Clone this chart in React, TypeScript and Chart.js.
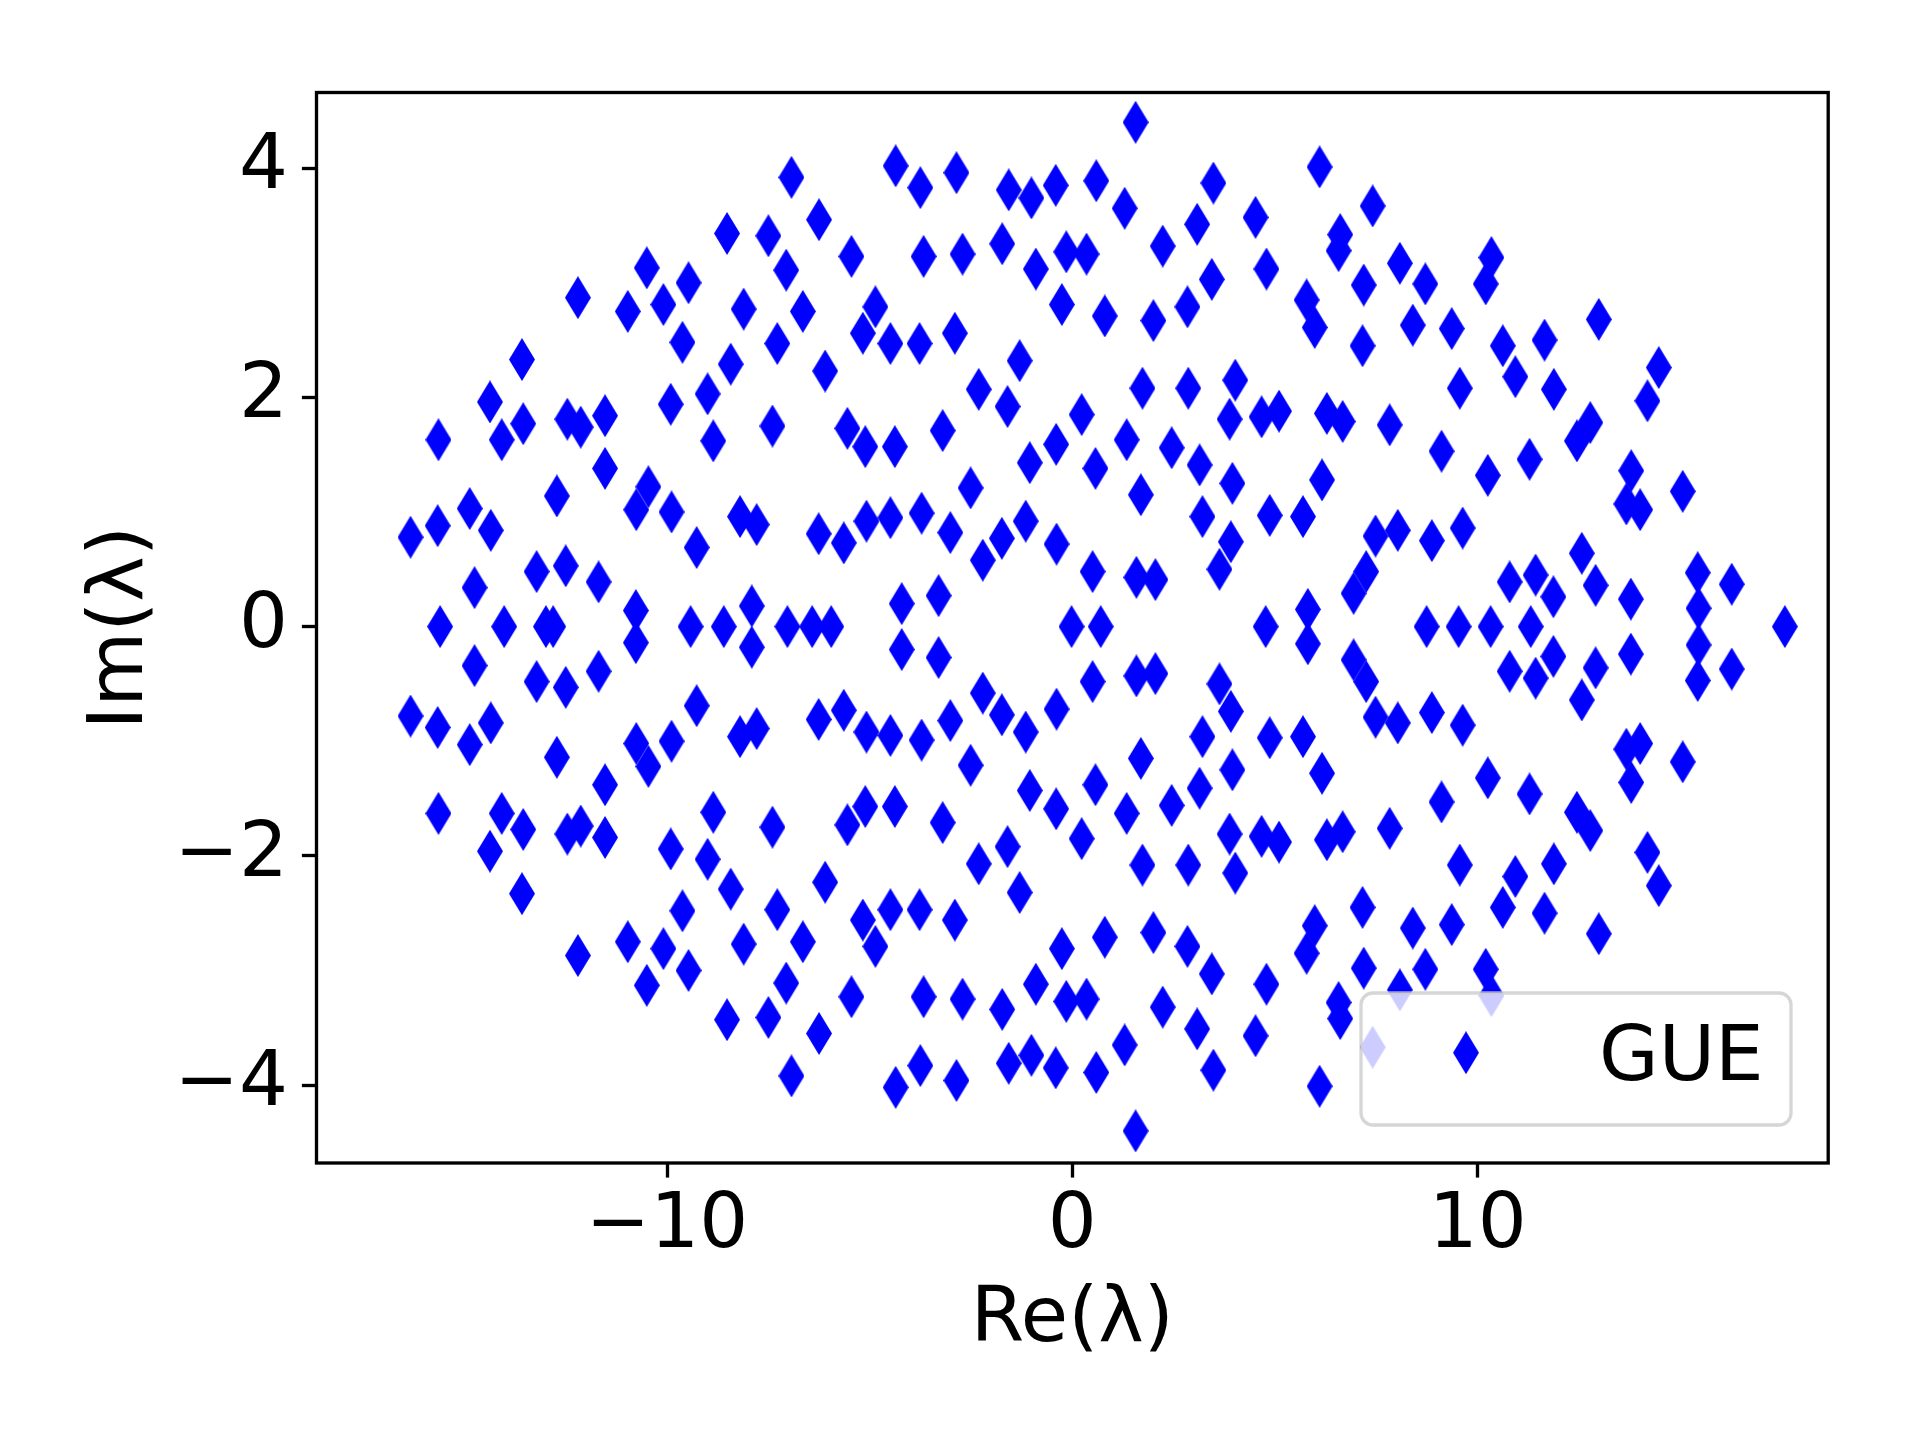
import React, { useEffect, useRef } from "react";
import { Chart, registerables } from "chart.js";

Chart.register(...registerables);

// Eigenvalues with positive imaginary part
const reUpper = [
  -16.33, -15.64, -15.66, -14.87, -14.75, -14.37, -14.08, -14.35, -13.58, -13.55,
  -13.22, -12.72, -12.46, -12.2, -12.13, -12.5, -11.53, -11.53, -11.69, -10.97,
  -10.76, -10.5, -10.46, -10.77, -10.09, -9.91, -9.89, -9.47, -9.62, -9.27,
  -9.0, -8.86, -8.52, -8.43, -8.11, -8.2, -7.79, -7.91, -7.5, -7.06,
  -7.28, -7.4, -6.93, -6.65, -6.25, -6.1, -6.26, -5.64, -5.45, -5.55,
  -5.11, -4.86, -5.17, -5.08, -4.38, -4.49, -4.36, -4.49, -4.21, -3.75,
  -3.77, -3.67, -3.72, -3.2, -3.3, -2.86, -2.9, -2.71, -3.01, -2.51,
  -2.31, -2.21, -1.73, -1.57, -1.6, -1.74, -1.3, -1.15, -1.05, -1.01,
  -0.9, -0.41, -0.26, -0.15, -0.4, -0.39, 0.35, 0.23, 0.59, 0.57,
  0.8, 0.5, 1.56, 1.29, 1.73, 1.34, 1.69, 1.58, 2.05, 2.0,
  2.23, 2.45, 2.84, 2.86, 3.08, 3.14, 3.21, 3.48, 3.44, 3.63,
  3.88, 3.95, 4.02, 3.91, 4.52, 4.79, 4.67, 5.1, 4.87, 5.78,
  5.98, 6.1, 5.81, 5.69, 6.16, 6.28, 6.67, 6.61, 6.57, 7.19,
  7.16, 7.41, 6.94, 7.25, 7.48, 7.83, 8.03, 8.08, 8.4, 8.71,
  8.87, 9.11, 9.36, 9.56, 9.63, 10.2, 10.34, 10.25, 10.62, 10.93,
  10.79, 11.28, 11.43, 11.65, 11.88, 11.87, 12.45, 12.78, 12.57, 12.99,
  12.91, 13.79, 13.78, 14.19, 14.47, 13.67, 14.01, 15.06, 15.43, 16.27,
  15.45,
];
const imUpper = [
  0.78, 1.63, 0.88, 1.03, 0.34, 1.96, 1.63, 0.84, 2.33, 1.77,
  0.48, 1.14, 1.81, 2.87, 1.74, 0.53, 1.84, 1.38, 0.39, 2.75,
  1.02, 3.13, 1.22, 0.14, 2.81, 1.94, 1.0, 3.0, 2.48, 0.69,
  2.03, 1.62, 3.43, 2.29, 2.77, 0.96, 0.89, 0.18, 3.41, 3.11,
  2.47, 1.75, 3.92, 2.75, 3.55, 2.23, 0.81, 0.73, 3.23, 1.73,
  1.57, 2.79, 2.56, 0.92, 1.57, 2.47, 4.02, 0.95, 0.2, 3.83,
  2.47, 3.23, 0.99, 1.71, 0.27, 3.96, 2.56, 3.25, 0.82, 1.21,
  2.07, 0.58, 3.34, 3.81, 1.92, 0.77, 2.32, 0.92, 1.43, 3.74,
  3.12, 3.85, 2.81, 3.27, 1.59, 0.72, 3.25, 1.85, 3.89, 1.38,
  2.71, 0.48, 4.4, 3.65, 2.08, 1.63, 1.15, 0.43, 0.41, 2.67,
  3.32, 1.56, 2.79, 2.08, 3.51, 1.41, 0.96, 3.87, 3.03, 0.5,
  1.81, 1.25, 2.15, 0.74, 3.57, 3.12, 1.83, 1.88, 0.97, 2.85,
  2.61, 4.01, 0.15, 0.96, 1.28, 1.86, 1.79, 3.42, 3.28, 2.98,
  2.45, 3.67, 0.29, 0.48, 0.79, 1.76, 0.84, 3.17, 2.63, 2.99,
  0.75, 1.53, 2.6, 2.08, 0.86, 2.99, 3.22, 1.32, 2.45, 2.18,
  0.39, 1.46, 0.45, 2.5, 2.07, 0.26, 1.62, 1.78, 0.64, 2.68,
  0.36, 1.36, 0.24, 1.97, 2.26, 1.07, 1.02, 1.18, 0.47, 0.37,
  0.16,
];

// Their complex conjugates (negative imaginary part)
const reLower = [
  -16.33, -15.64, -15.66, -14.87, -14.75, -14.37, -14.08, -14.35, -13.58, -13.55,
  -13.22, -12.72, -12.46, -12.2, -12.13, -12.5, -11.53, -11.53, -11.69, -10.97,
  -10.76, -10.5, -10.46, -10.77, -10.09, -9.91, -9.89, -9.47, -9.62, -9.27,
  -9.0, -8.86, -8.52, -8.43, -8.11, -8.2, -7.79, -7.91, -7.5, -7.06,
  -7.28, -7.4, -6.93, -6.65, -6.25, -6.1, -6.26, -5.64, -5.45, -5.55,
  -5.11, -4.86, -5.17, -5.08, -4.38, -4.49, -4.36, -4.49, -4.21, -3.75,
  -3.77, -3.67, -3.72, -3.2, -3.3, -2.86, -2.9, -2.71, -3.01, -2.51,
  -2.31, -2.21, -1.73, -1.57, -1.6, -1.74, -1.3, -1.15, -1.05, -1.01,
  -0.9, -0.41, -0.26, -0.15, -0.4, -0.39, 0.35, 0.23, 0.59, 0.57,
  0.8, 0.5, 1.56, 1.29, 1.73, 1.34, 1.69, 1.58, 2.05, 2.0,
  2.23, 2.45, 2.84, 2.86, 3.08, 3.14, 3.21, 3.48, 3.44, 3.63,
  3.88, 3.95, 4.02, 3.91, 4.52, 4.79, 4.67, 5.1, 4.87, 5.78,
  5.98, 6.1, 5.81, 5.69, 6.16, 6.28, 6.67, 6.61, 6.57, 7.19,
  7.16, 7.41, 6.94, 7.25, 7.48, 7.83, 8.03, 8.08, 8.4, 8.71,
  8.87, 9.11, 9.36, 9.56, 9.63, 10.2, 10.34, 10.25, 10.62, 10.93,
  10.79, 11.28, 11.43, 11.65, 11.88, 11.87, 12.45, 12.78, 12.57, 12.99,
  12.91, 13.79, 13.78, 14.19, 14.47, 13.67, 14.01, 15.06, 15.43, 16.27,
  15.45,
];
const imLower = [
  -0.78, -1.63, -0.88, -1.03, -0.34, -1.96, -1.63, -0.84, -2.33, -1.77,
  -0.48, -1.14, -1.81, -2.87, -1.74, -0.53, -1.84, -1.38, -0.39, -2.75,
  -1.02, -3.13, -1.22, -0.14, -2.81, -1.94, -1.0, -3.0, -2.48, -0.69,
  -2.03, -1.62, -3.43, -2.29, -2.77, -0.96, -0.89, -0.18, -3.41, -3.11,
  -2.47, -1.75, -3.92, -2.75, -3.55, -2.23, -0.81, -0.73, -3.23, -1.73,
  -1.57, -2.79, -2.56, -0.92, -1.57, -2.47, -4.02, -0.95, -0.2, -3.83,
  -2.47, -3.23, -0.99, -1.71, -0.27, -3.96, -2.56, -3.25, -0.82, -1.21,
  -2.07, -0.58, -3.34, -3.81, -1.92, -0.77, -2.32, -0.92, -1.43, -3.74,
  -3.12, -3.85, -2.81, -3.27, -1.59, -0.72, -3.25, -1.85, -3.89, -1.38,
  -2.71, -0.48, -4.4, -3.65, -2.08, -1.63, -1.15, -0.43, -0.41, -2.67,
  -3.32, -1.56, -2.79, -2.08, -3.51, -1.41, -0.96, -3.87, -3.03, -0.5,
  -1.81, -1.25, -2.15, -0.74, -3.57, -3.12, -1.83, -1.88, -0.97, -2.85,
  -2.61, -4.01, -0.15, -0.96, -1.28, -1.86, -1.79, -3.42, -3.28, -2.98,
  -2.45, -3.67, -0.29, -0.48, -0.79, -1.76, -0.84, -3.17, -2.63, -2.99,
  -0.75, -1.53, -2.6, -2.08, -0.86, -2.99, -3.22, -1.32, -2.45, -2.18,
  -0.39, -1.46, -0.45, -2.5, -2.07, -0.26, -1.62, -1.78, -0.64, -2.68,
  -0.36, -1.36, -0.24, -1.97, -2.26, -1.07, -1.02, -1.18, -0.47, -0.37,
  -0.16,
];

// Real eigenvalues
const reReal = [
  -15.6, -14.02, -12.99, -12.81, -9.42, -8.6, -7.03, -6.42, -5.95,
  -0.02, 0.7, 4.77, 8.74, 9.53, 10.32, 11.31, 17.58,
];
const imReal = [0, 0, 0, 0, 0, 0, 0, 0, 0, 0, 0, 0, 0, 0, 0, 0, 0];

const xTicks = [-10, 0, 10];
const yTicks = [-4, -2, 0, 2, 4];
const seriesLabel = "GUE";
const xTitle = "Re(λ)";
const yTitle = "Im(λ)";

const FONT = '"DejaVu Sans", "Liberation Sans", sans-serif';
const BLUE = "#0000ff";

function makeDiamond(w: number, h: number, color: string) {
  const c = document.createElement("canvas");
  c.width = w;
  c.height = h;
  const g = c.getContext("2d")!;
  g.fillStyle = color;
  g.beginPath();
  g.moveTo(w / 2, 0);
  g.lineTo(w, h / 2);
  g.lineTo(w / 2, h);
  g.lineTo(0, h / 2);
  g.closePath();
  g.fill();
  return c;
}

const fmt = (v: number) => (v < 0 ? "\u2212" + Math.abs(v) : String(v));

export default function App() {
  const ref = useRef<HTMLCanvasElement | null>(null);

  useEffect(() => {
    if (!ref.current) return;
    const diamond = makeDiamond(26, 43, BLUE);

    const pts: { x: number; y: number }[] = [];
    reUpper.forEach((x, i) => pts.push({ x, y: imUpper[i] }));
    reReal.forEach((x, i) => pts.push({ x, y: imReal[i] }));
    reLower.forEach((x, i) => pts.push({ x, y: imLower[i] }));

    const framePlugin = {
      id: "frame",
      afterDatasetsDraw(chart: any) {
        const { ctx, chartArea: a } = chart;
        ctx.save();
        ctx.strokeStyle = "#000";
        ctx.lineWidth = 3.33;
        ctx.strokeRect(a.left, a.top, a.right - a.left, a.bottom - a.top);
        ctx.restore();
      },
    };

    const legendPlugin = {
      id: "mplLegend",
      afterDraw(chart: any) {
        const ctx = chart.ctx as CanvasRenderingContext2D;
        const x = 1361, y = 993, w = 430, h = 132, r = 12;
        ctx.save();
        ctx.beginPath();
        ctx.moveTo(x + r, y);
        ctx.lineTo(x + w - r, y);
        ctx.arcTo(x + w, y, x + w, y + r, r);
        ctx.lineTo(x + w, y + h - r);
        ctx.arcTo(x + w, y + h, x + w - r, y + h, r);
        ctx.lineTo(x + r, y + h);
        ctx.arcTo(x, y + h, x, y + h - r, r);
        ctx.lineTo(x, y + r);
        ctx.arcTo(x, y, x + r, y, r);
        ctx.closePath();
        ctx.fillStyle = "rgba(255,255,255,0.8)";
        ctx.fill();
        ctx.strokeStyle = "rgba(204,204,204,0.8)";
        ctx.lineWidth = 3.3;
        ctx.stroke();
        ctx.drawImage(diamond, 1466 - 13, 1052.7 - 21.5);
        ctx.fillStyle = "#000";
        ctx.font = `77px ${FONT}`;
        ctx.textBaseline = "alphabetic";
        ctx.textAlign = "left";
        ctx.fillText(seriesLabel, 1599, 1080);
        ctx.restore();
      },
    };

    const chart = new Chart(ref.current, {
      type: "scatter",
      data: {
        datasets: [
          {
            label: seriesLabel,
            data: pts,
            pointStyle: diamond as any,
            pointRadius: 13,
            pointHoverRadius: 13,
            backgroundColor: BLUE,
            borderColor: BLUE,
          },
        ],
      },
      options: {
        responsive: false,
        animation: false,
        devicePixelRatio: 1,
        layout: { padding: { left: 0, top: 92.5, right: 91.8, bottom: 0 } },
        plugins: {
          legend: { display: false },
          tooltip: { enabled: false },
        },
        scales: {
          x: {
            type: "linear",
            position: "bottom",
            min: -18.65,
            max: 18.65,
            afterBuildTicks: (s: any) => {
              s.ticks = xTicks.map((v) => ({ value: v }));
            },
            afterFit: (s: any) => {
              s.height = 277;
            },
            border: { display: false },
            grid: {
              display: true,
              drawOnChartArea: false,
              drawTicks: true,
              tickLength: 14.6,
              tickWidth: 3.33,
              tickColor: "#000",
            },
            ticks: {
              autoSkip: false,
              maxRotation: 0,
              color: "#000",
              padding: 11,
              font: { family: FONT, size: 77, lineHeight: 1 },
              callback: (v: any) => fmt(Number(v)),
            },
            title: {
              display: true,
              text: xTitle,
              color: "#000",
              font: { family: FONT, size: 77, lineHeight: 1.2 },
              padding: { top: 0, bottom: 73 },
            },
          },
          y: {
            type: "linear",
            position: "left",
            min: -4.68,
            max: 4.66,
            afterBuildTicks: (s: any) => {
              s.ticks = yTicks.map((v) => ({ value: v }));
            },
            afterFit: (s: any) => {
              s.width = 316.5;
            },
            border: { display: false },
            grid: {
              display: true,
              drawOnChartArea: false,
              drawTicks: true,
              tickLength: 14.6,
              tickWidth: 3.33,
              tickColor: "#000",
            },
            ticks: {
              autoSkip: false,
              color: "#000",
              padding: 14,
              font: { family: FONT, size: 77, lineHeight: 1 },
              callback: (v: any) => fmt(Number(v)),
            },
            title: {
              display: true,
              text: yTitle,
              color: "#000",
              font: { family: FONT, size: 77, lineHeight: 1.2 },
              padding: { top: 76, bottom: 0 },
            },
          },
        },
      },
      plugins: [framePlugin, legendPlugin],
    });

    return () => chart.destroy();
  }, []);

  return (
    <div style={{ position: "absolute", left: 0, top: 0, width: 1920, height: 1440, background: "#fff" }}>
      <canvas ref={ref} width={1920} height={1440} style={{ display: "block" }} />
    </div>
  );
}
